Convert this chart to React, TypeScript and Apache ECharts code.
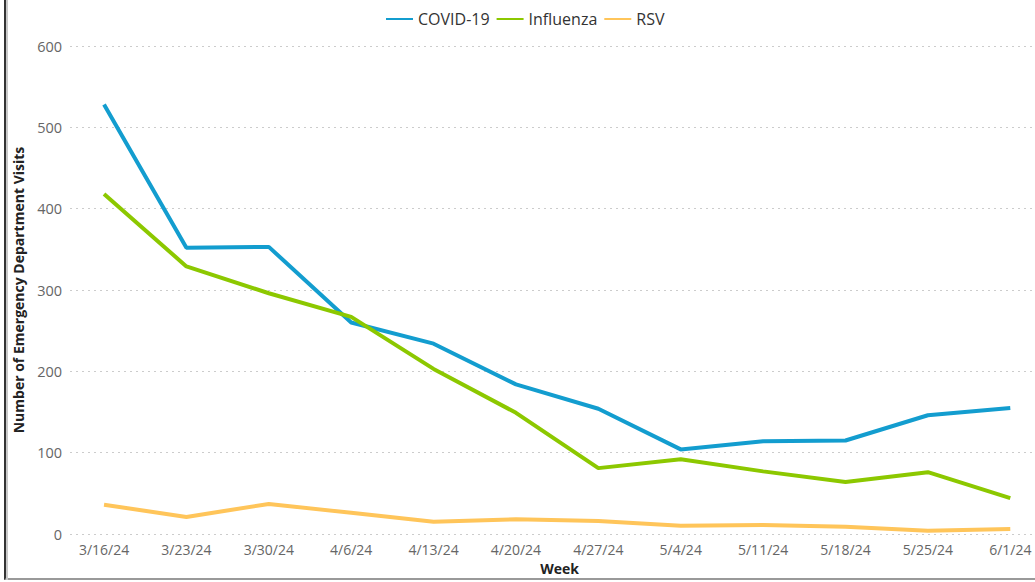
import React, { useEffect, useRef } from "react";
import * as echarts from "echarts";

const weeks = ["3/16/24", "3/23/24", "3/30/24", "4/6/24", "4/13/24", "4/20/24", "4/27/24", "5/4/24", "5/11/24", "5/18/24", "5/25/24", "6/1/24"];
const covid = [528, 352, 353, 260, 234, 184, 154, 104, 114, 115, 146, 155];
const influenza = [418, 329, 296, 267, 203, 149, 81, 92, 77, 64, 76, 44];
const rsv = [36, 21, 37, 26, 15, 18, 16, 10, 11, 9, 4, 6];
const yTicks = [0, 100, 200, 300, 400, 500, 600];

const FONT = "'Open Sans', 'Noto Sans', sans-serif";

export default function App() {
  const ref = useRef<HTMLDivElement>(null);
  useEffect(() => {
    document.body.style.margin = "0";
    const chart = echarts.init(ref.current!, null, { renderer: "svg" });
    const toPts = (arr: number[]) => arr.map((v, i) => [i, v]);
    const mk = (name: string, data: number[], color: string) => ({
      name,
      type: "line",
      data: toPts(data),
      symbol: "none",
      lineStyle: { width: 4, color },
      itemStyle: { color },
    });
    chart.setOption({
      animation: false,
      textStyle: { fontFamily: FONT },
      legend: {
        top: 6,
        left: 381,
        itemWidth: 27,
        itemHeight: 2,
        itemGap: 7,
        icon: "rect",
        textStyle: { fontSize: 16, color: "#333", fontFamily: FONT },
        data: ["COVID-19", "Influenza", "RSV"],
      },
      grid: { left: 70, right: 0, top: 46, bottom: 48, outerBoundsMode: "none", containLabel: false },
      xAxis: {
        type: "value",
        min: -0.413,
        max: 11.3,
        name: "Week",
        nameLocation: "middle",
        nameGap: 27,
        nameTextStyle: { fontSize: 14, fontWeight: "bold", color: "#222", fontFamily: FONT, padding: [0, 0, 0, 14] },
        axisLine: { show: false },
        axisTick: { show: false },
        splitLine: { show: false },
        axisLabel: {
          customValues: weeks.map((_, i) => i),
          formatter: (v: number) => weeks[Math.round(v)] ?? "",
          fontSize: 14,
          color: "#666",
          margin: 8,
          fontFamily: FONT,
        },
      },
      yAxis: {
        type: "value",
        min: yTicks[0],
        max: yTicks[yTicks.length - 1],
        interval: 100,
        name: "Number of Emergency Department Visits",
        nameLocation: "middle",
        nameGap: 45,
        nameTextStyle: { fontSize: 14, fontWeight: "bold", color: "#222", fontFamily: FONT },
        axisLine: { show: false },
        axisTick: { show: false },
        axisLabel: { fontSize: 14.5, color: "#666", margin: 8, fontFamily: FONT },
        splitLine: { show: true, lineStyle: { type: [2, 4], color: "#ccc", width: 1 } },
      },
      series: [
        mk("COVID-19", covid, "#139dcf"),
        mk("Influenza", influenza, "#8cc800"),
        mk("RSV", rsv, "#ffc55a"),
      ],
    });
    return () => chart.dispose();
  }, []);
  return (
    <div style={{ position: "absolute", left: 0, top: 0, width: 1035, height: 582, overflow: "hidden", background: "#fff" }}>
      <div ref={ref} style={{ position: "absolute", left: 0, top: 0, width: 1035, height: 582 }} />
      <div style={{ position: "absolute", left: 4, top: 0, width: 1100, height: 578, borderLeft: "2px solid #333", borderBottom: "2px solid #999", pointerEvents: "none" }} />
      <div style={{ position: "absolute", left: 6, top: 0, width: 2, height: 580, background: "#c8c8c8", pointerEvents: "none" }} />
    </div>
  );
}
